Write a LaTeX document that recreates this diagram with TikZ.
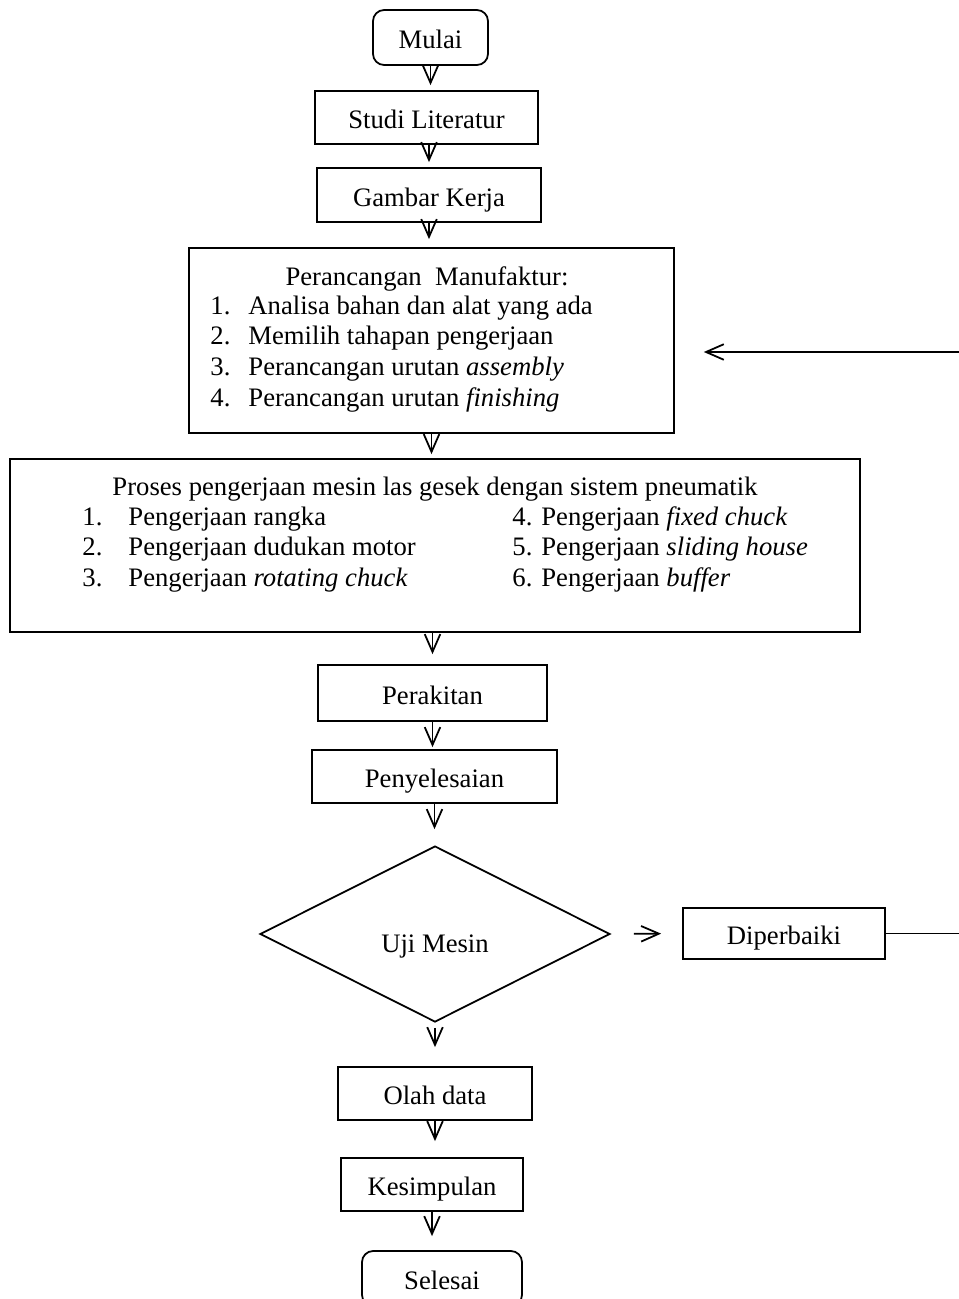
\documentclass[tikz,border=0pt]{standalone}
\usepackage{fontspec}
\setmainfont{Liberation Serif}
\usetikzlibrary{arrows.meta,shapes.geometric}
\renewcommand{\arraystretch}{1}

\begin{document}
\begin{tikzpicture}[x=0.45pt,y=-0.45pt,>={Straight Barb[length=8pt,width=7pt]},
  every node/.style={font=\fontsize{12pt}{13.8pt}\selectfont},
  box/.style={draw,thick,align=center,inner sep=0pt,text height=10pt,text depth=0pt},
  ends/.style={box,rounded corners=5pt},
  txt/.style={inner sep=0pt}]
\useasboundingbox (0,0) rectangle (959,1299);
\node[ends,minimum width=51.75pt,minimum height=24.75pt] (mulai) at (430.5,37.5) {Mulai};
\node[box,minimum width=100.35pt,minimum height=23.85pt] (studi) at (426.5,117.5) {Studi Literatur};
\node[box,minimum width=100.8pt,minimum height=24.3pt] (gambar) at (429,195) {Gambar Kerja};
% perancangan manufaktur
\node[box,minimum width=218.25pt,minimum height=83.25pt] (rancang) at (431.5,340.5) {};
\node[txt,anchor=base] (rancangjudul) at (427,285) {Perancangan\ \ Manufaktur:};
\node[txt,anchor=base west] (rancangdaftar) at (210,314) {\begin{tabular}[t]{@{}p{17.1pt}@{}l@{}}
1. & Analisa bahan dan alat yang ada\\
2. & Memilih tahapan pengerjaan\\
3. & Perancangan urutan \textit{assembly}\\
4. & Perancangan urutan \textit{finishing}
\end{tabular}};
% proses pengerjaan
\node[box,minimum width=382.5pt,minimum height=77.85pt] (proses) at (435,545.5) {};
\node[txt,anchor=base] (prosesjudul) at (435,495) {Proses pengerjaan mesin las gesek dengan sistem pneumatik};
\node[txt,anchor=base west] (proseskiri) at (82,525) {\begin{tabular}[t]{@{}p{20.7pt}@{}l@{}}
1. & Pengerjaan rangka\\
2. & Pengerjaan dudukan motor\\
3. & Pengerjaan \textit{rotating chuck}
\end{tabular}};
\node[txt,anchor=base west] (proseskanan) at (512,525) {\begin{tabular}[t]{@{}l@{}}
4. Pengerjaan \textit{fixed chuck}\\
5. Pengerjaan \textit{sliding house}\\
6. Pengerjaan \textit{buffer}
\end{tabular}};
\node[box,minimum width=103.05pt,minimum height=25.2pt] (rakit) at (432.5,693) {Perakitan};
\node[box,minimum width=110.25pt,minimum height=23.85pt] (selesaian) at (434.5,776.5) {Penyelesaian};
\node[draw,thick,diamond,aspect=2,inner sep=0pt,minimum width=157.5pt,minimum height=79.2pt,
  text height=19pt,text depth=2.6pt] (uji) at (435,934) {Uji Mesin};
\node[box,minimum width=90.9pt,minimum height=22.95pt] (perbaiki) at (784,933.5) {Diperbaiki};
\node[box,minimum width=87.3pt,minimum height=23.85pt] (olah) at (435,1093.5) {Olah data};
\node[box,minimum width=81.9pt,minimum height=23.85pt] (simpul) at (432,1184.5) {Kesimpulan};
\node[ends,minimum width=72pt,minimum height=24.75pt] (selesai) at (442,1278.5) {Selesai};
\coordinate (kanan) at (959,933.5);
\coordinate (balik) at (959,352);
% alur utama
\draw[->,thick,shorten >=2.25pt] (mulai.south) -- (mulai.south |- studi.north);
\draw[->,thick,shorten >=2.25pt] (gambar.north |- studi.south) -- (gambar.north);
\draw[->,thick,shorten >=3.6pt] (gambar.south) -- (gambar.south |- rancang.north);
\draw[->,thick,shorten >=1.8pt] (rancang.south) -- (rancang.south |- proses.north);
\draw[->,thick,shorten >=4.5pt] (rakit.north |- proses.south) -- (rakit.north);
\draw[->,thick,shorten >=0.9pt] (rakit.south) -- (rakit.south |- selesaian.north);
\draw[->,thick,shorten >=7.2pt] (selesaian.south) -- (selesaian.south |- uji.north);
\draw[->,thick,shorten <=2.25pt,shorten >=8.55pt] (uji.south) -- (olah.north);
\draw[->,thick,shorten >=7.2pt] (olah.south) -- (olah.south |- simpul.north);
\draw[->,thick,shorten >=6.3pt] (simpul.south) -- (simpul.south |- selesai.north);
% perbaikan
\draw[->,thick,shorten <=10.35pt,shorten >=9.45pt] (uji.east) -- (perbaiki.west);
\draw[thick] (perbaiki.east) -- (perbaiki.east -| kanan);
\draw[->,thick,shorten >=13pt] (balik) -- (rancang.east |- balik);
\end{tikzpicture}
\end{document}
